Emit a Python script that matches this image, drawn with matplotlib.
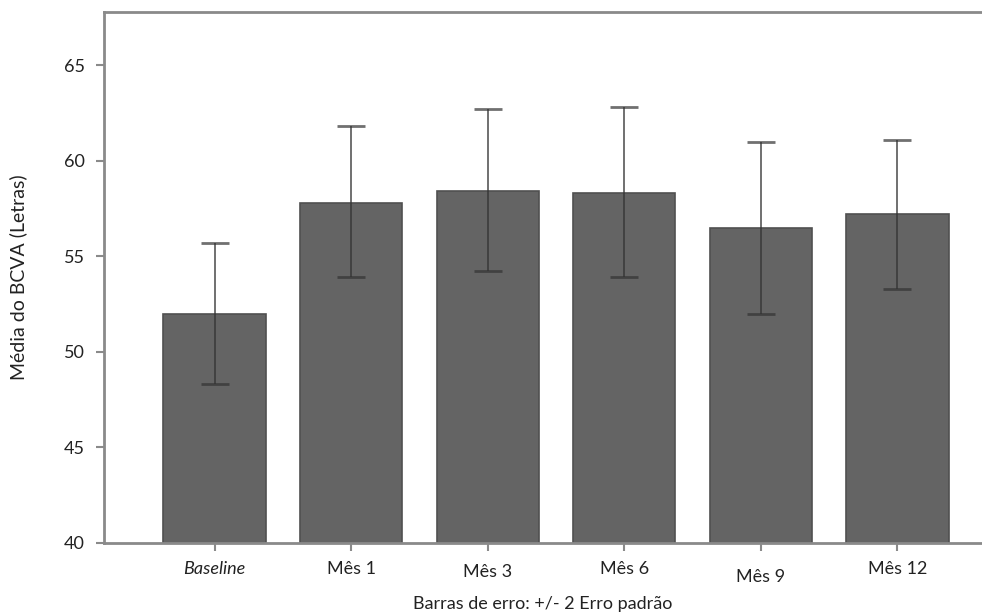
import numpy as np
import matplotlib.pyplot as plt

# Média do BCVA por visita, com barras de erro de +/- 2 erros padrão
visitas = ["Baseline", "Mês 1", "Mês 3", "Mês 6", "Mês 9", "Mês 12"]
media = [52.0, 57.8, 58.4, 58.3, 56.5, 57.2]
limite_inf = [48.3, 53.9, 54.2, 53.9, 52.0, 53.3]
limite_sup = [55.7, 61.8, 62.7, 62.8, 61.0, 61.1]

plt.rcParams["font.family"] = ["Lato", "DejaVu Sans"]

x = np.arange(len(visitas))
err = [np.array(media) - np.array(limite_inf), np.array(limite_sup) - np.array(media)]

fig = plt.figure(figsize=(9.82, 6.14), dpi=100)
ax = fig.add_axes([0.106, 0.116, 0.894, 0.865])

ax.bar(x, media, width=0.75, color="#646464", edgecolor="#505050", linewidth=1.2, zorder=2)
ax.errorbar(x, media, yerr=err, fmt="none", ecolor="#333333", elinewidth=1.4,
            capsize=10, capthick=2, alpha=0.7, zorder=3)

ax.set_xlim(-0.81, 5.62)
ax.set_ylim(40, 67.8)
ax.set_yticks([40, 45, 50, 55, 60, 65])

ax.set_xticks(x)
ax.set_xticklabels(visitas, fontsize=13)
# ajustes finos das etiquetas do eixo x
ax.get_xticklabels()[0].set_style("italic")
ax.get_xticklabels()[2].set_y(-0.006)
ax.get_xticklabels()[4].set_y(-0.016)

for s in ["left", "top", "bottom"]:
    ax.spines[s].set_color("#8a8a8a")
    ax.spines[s].set_linewidth(2)
ax.spines["right"].set_visible(False)

ax.tick_params(axis="both", colors="#8a8a8a", length=6, width=1.5, labelcolor="#222222")
ax.tick_params(axis="y", labelsize=13, pad=8)
ax.tick_params(axis="x", pad=7)

ax.set_ylabel("Média do BCVA (Letras)", fontsize=14, color="#222222", labelpad=26)
ax.set_xlabel("Barras de erro: +/- 2 Erro padrão", fontsize=13, color="#222222", labelpad=8)

fig.savefig("out.png", dpi=100)
